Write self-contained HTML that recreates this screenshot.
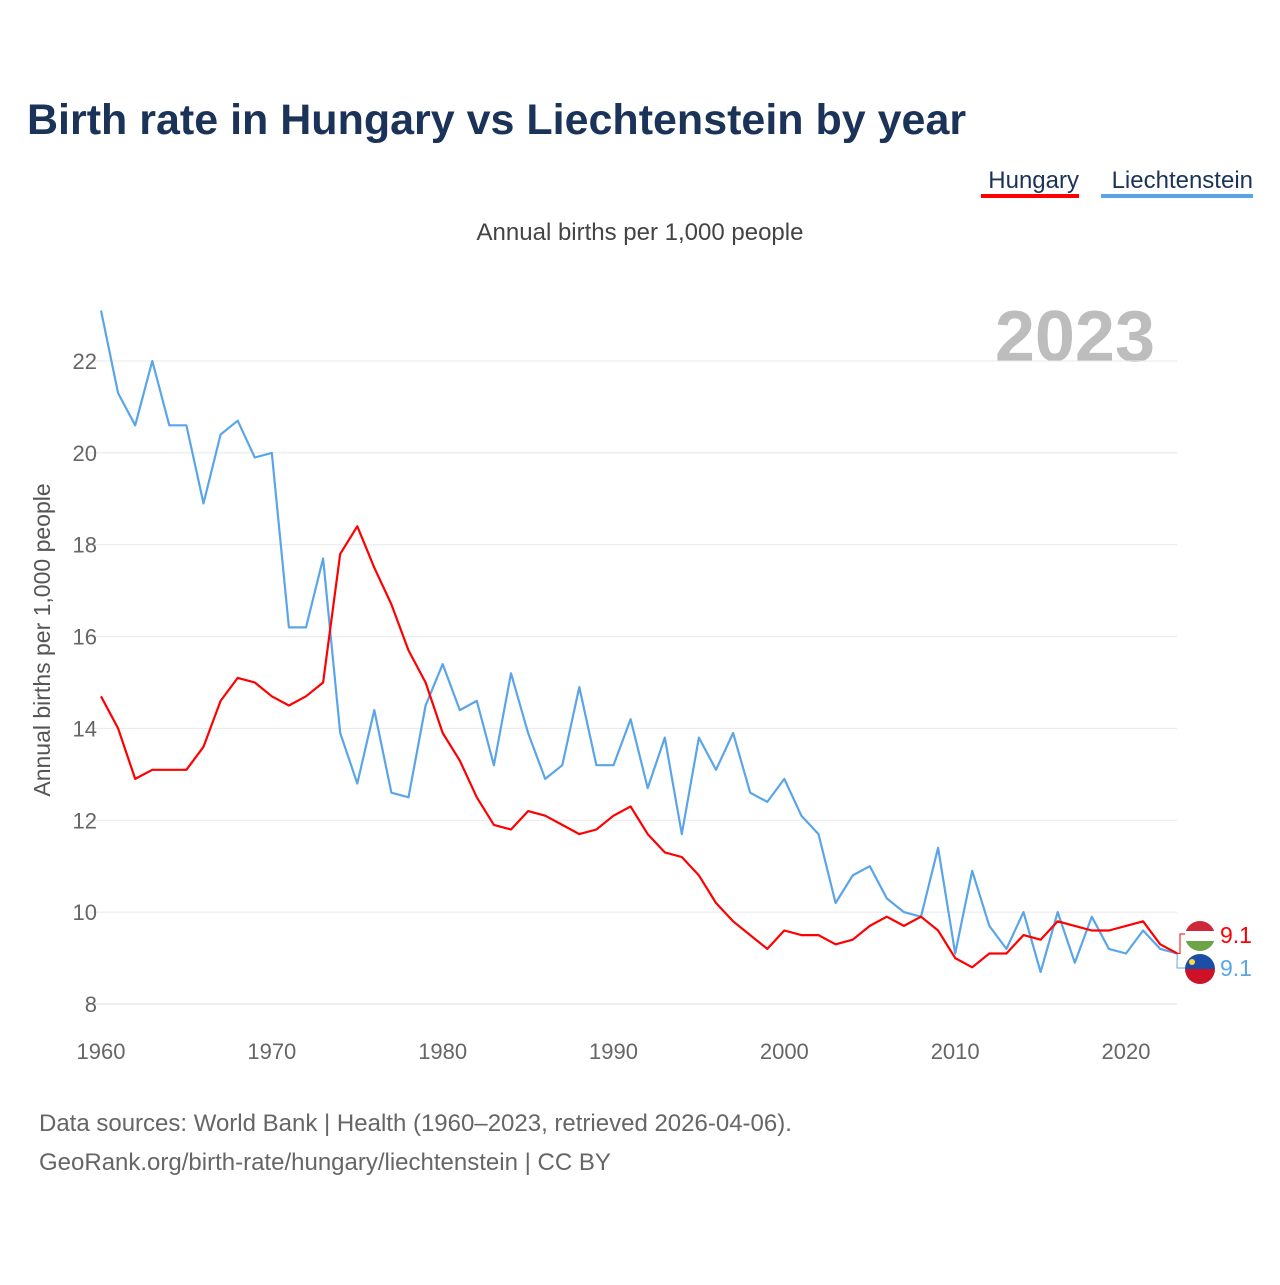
<!DOCTYPE html>
<html><head><meta charset="utf-8"><style>
body{margin:0;background:#fff;font-family:"Liberation Sans",sans-serif;}
svg text{font-family:"Liberation Sans",sans-serif;}
</style></head><body>
<svg id="chart" width="1280" height="1280" xmlns="http://www.w3.org/2000/svg">
<text x="27" y="134" font-size="43" font-weight="bold" fill="#1b3358">Birth rate in Hungary vs Liechtenstein by year</text>
<g><text x="1079" y="188" font-size="24" fill="#1b3358" text-anchor="end">Hungary</text><rect x="981" y="194" width="98" height="4" fill="#ff0000"/></g>
<g><text x="1253" y="188" font-size="24" fill="#1b3358" text-anchor="end">Liechtenstein</text><rect x="1101" y="194" width="152" height="4" fill="#5aa5ea"/></g>
<text x="640" y="240" font-size="24" fill="#444" text-anchor="middle">Annual births per 1,000 people</text>
<text x="1155" y="361" font-size="72" font-weight="bold" fill="#bdbdbd" text-anchor="end">2023</text>
<text transform="translate(50,640) rotate(-90)" font-size="23" fill="#555" text-anchor="middle">Annual births per 1,000 people</text>
<g id="grid"></g><g id="ylabels"></g><g id="xlabels"></g><g id="lines"></g>
<g id="endmarks"></g>
<text x="39" y="1131" font-size="24" fill="#666">Data sources: World Bank | Health (1960–2023, retrieved 2026-04-06).</text>
<text x="39" y="1170" font-size="24" fill="#666">GeoRank.org/birth-rate/hungary/liechtenstein | CC BY</text>
</svg>
<script>
const years=[];for(let y=1960;y<=2023;y++)years.push(y);
const hungary=[14.7,14.0,12.9,13.1,13.1,13.1,13.6,14.6,15.1,15.0,14.7,14.5,14.7,15.0,17.8,18.4,17.5,16.7,15.7,15.0,13.9,13.3,12.5,11.9,11.8,12.2,12.1,11.9,11.7,11.8,12.1,12.3,11.7,11.3,11.2,10.8,10.2,9.8,9.5,9.2,9.6,9.5,9.5,9.3,9.4,9.7,9.9,9.7,9.9,9.6,9.0,8.8,9.1,9.1,9.5,9.4,9.8,9.7,9.6,9.6,9.7,9.8,9.3,9.1];
const liechtenstein=[23.1,21.3,20.6,22.0,20.6,20.6,18.9,20.4,20.7,19.9,20.0,16.2,16.2,17.7,13.9,12.8,14.4,12.6,12.5,14.5,15.4,14.4,14.6,13.2,15.2,13.9,12.9,13.2,14.9,13.2,13.2,14.2,12.7,13.8,11.7,13.8,13.1,13.9,12.6,12.4,12.9,12.1,11.7,10.2,10.8,11.0,10.3,10.0,9.9,11.4,9.1,10.9,9.7,9.2,10.0,8.7,10.0,8.9,9.9,9.2,9.1,9.6,9.2,9.1];
const yTicks=[8,10,12,14,16,18,20,22];
const xTicks=[1960,1970,1980,1990,2000,2010,2020];
const NS="http://www.w3.org/2000/svg";
const xs=y=>101+(y-1960)*(1025/60);
const ys=v=>1004-(v-8)*(643/14);
function mk(tag,attrs,parent){const e=document.createElementNS(NS,tag);for(const k in attrs)e.setAttribute(k,attrs[k]);document.getElementById(parent).appendChild(e);return e;}
yTicks.forEach(t=>{
 const l=mk('line',{x1:85,x2:1177,y1:ys(t),y2:ys(t),stroke:t===8?'#ddd':'#e8e8e8','stroke-width':1},'grid');
 
 
 const tx=mk('text',{x:97,y:ys(t)+8,'font-size':22,fill:'#666','text-anchor':'end'},'ylabels');tx.textContent=t;
 
 
});
xTicks.forEach(t=>{
 const tx=mk('text',{x:xs(t),y:1059,'font-size':22,fill:'#666','text-anchor':'middle'},'xlabels');tx.textContent=t;
 
 
});
function line(data,color,name){
 const d=data.map((v,i)=>(i?'L':'M')+xs(years[i]).toFixed(1)+','+ys(v).toFixed(1)).join('');
 const p=mk('path',{d:d,fill:'none',stroke:color,'stroke-width':2.2,'stroke-linejoin':'round'},'lines');
 
 
}
line(liechtenstein,'#5aa5ea','liechtenstein-line');
line(hungary,'#ff0000','hungary-line');
const ex=xs(2023);
mk('path',{d:`M${ex},${ys(hungary[63])}L1180,${ys(hungary[63])}L1180,934L1186,934`,stroke:'#ff0000',fill:'none','stroke-width':1},'endmarks');
mk('path',{d:`M${ex},${ys(liechtenstein[63])}L1177,968L1186,968`,stroke:'#5aa5ea',fill:'none','stroke-width':1},'endmarks');
const hf=mk('g',{},'endmarks');


hf.innerHTML='<clipPath id="c1"><circle cx="1200" cy="936" r="15"/></clipPath><g clip-path="url(#c1)"><rect x="1185" y="921" width="30" height="10" fill="#ce2939"/><rect x="1185" y="931" width="30" height="10" fill="#fff"/><rect x="1185" y="941" width="30" height="10" fill="#6ba547"/></g>';
const lf=mk('g',{},'endmarks');


lf.innerHTML='<clipPath id="c2"><circle cx="1200" cy="969" r="15"/></clipPath><g clip-path="url(#c2)"><rect x="1185" y="954" width="30" height="15" fill="#1a4ea8"/><rect x="1185" y="969" width="30" height="15" fill="#ce1126"/><circle cx="1192" cy="962" r="3" fill="#ffd83d"/></g>';
const t1=mk('text',{x:1220,y:943,'font-size':23,fill:'#ff0000'},'endmarks');t1.textContent=hungary[63].toFixed(1);


const t2=mk('text',{x:1220,y:976,'font-size':23,fill:'#5aa5ea'},'endmarks');t2.textContent=liechtenstein[63].toFixed(1);


</script>
</body></html>
